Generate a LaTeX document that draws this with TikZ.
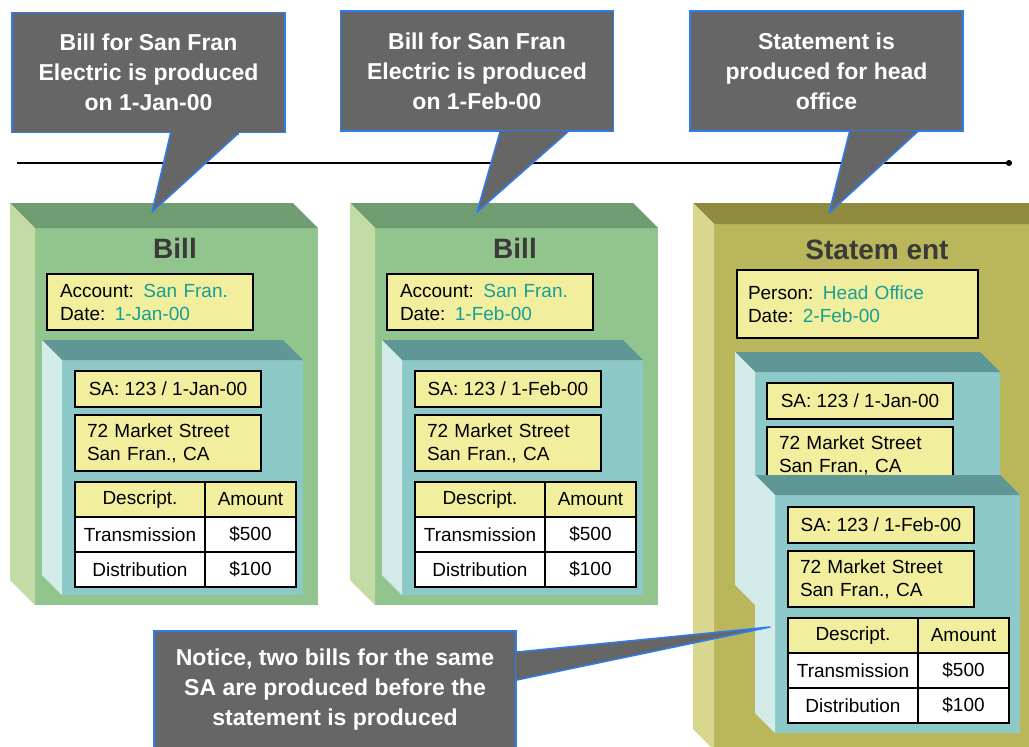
\documentclass[tikz,border=0pt]{standalone}
\usepackage{fontspec}
\setmainfont{Liberation Sans}
\usepackage{xcolor}
\usetikzlibrary{positioning,arrows.meta}

\definecolor{notegray}{HTML}{666666}
\definecolor{noteblue}{HTML}{2F7BF0}
\definecolor{billgreen}{HTML}{92C48E}
\definecolor{billtop}{HTML}{6F9C70}
\definecolor{billside}{HTML}{C3DCA6}
\definecolor{sateal}{HTML}{8DC9C8}
\definecolor{satop}{HTML}{5F9797}
\definecolor{saside}{HTML}{D3ECEA}
\definecolor{stmtolive}{HTML}{B9B65C}
\definecolor{stmttop}{HTML}{8E8B3E}
\definecolor{stmtside}{HTML}{D9D78E}
\definecolor{fieldyellow}{HTML}{F1EE9E}
\definecolor{valteal}{HTML}{179E96}
\definecolor{titlegray}{HTML}{3A3A3A}

\newcommand{\val}[1]{\textcolor{valteal}{#1}}

% 3D slab: back left x, back top y, front right x, front bottom y, depth, front, top, side colour
\newcommand{\slabbox}[8]{%
 \fill[#6] ({#1+#5},{#2+#5}) rectangle (#3,#4);
 \fill[#7] (#1,#2) -- ({#3-#5},#2) -- (#3,{#2+#5}) -- ({#1+#5},{#2+#5}) -- cycle;
 \fill[#8] (#1,#2) -- ({#1+#5},{#2+#5}) -- ({#1+#5},#4) -- (#1,{#4-#5}) -- cycle;
}

% SA line and address
\newcommand{\sahead}[4]{%
 \node[field, minimum width=186pt, minimum height=36pt, anchor=north west] (sa#1) at (#2,#3) {SA: 123 / #4};
 \node[field, text width=162pt, inner xsep=12pt, minimum height=56pt, below=8pt of sa#1] (addr#1) {72 Market Street\\San Fran., CA};
}

% charge table under the address
\newcommand{\satable}[1]{%
 \node[cell, fill=fieldyellow, minimum width=130pt, anchor=north west] (hd#1) at ([yshift=-11pt]addr#1.south west) {Descript.};
 \node[cell, fill=fieldyellow, minimum width=91pt, right=0pt of hd#1] (ha#1) {Amount};
 \node[cell, minimum width=130pt, below=0pt of hd#1] (td#1) {Transmission};
 \node[cell, minimum width=91pt, below=0pt of ha#1] (ta#1) {\$500};
 \node[cell, minimum width=130pt, below=0pt of td#1] (dd#1) {Distribution};
 \node[cell, minimum width=91pt, below=0pt of ta#1] (da#1) {\$100};
}

% callout tail: base point, tip, base point
\newcommand{\notetail}[3]{%
 \fill[notegray] #1 -- #2 -- #3 -- cycle;
 \draw[notegray, line width=2.5pt] #1 -- #3;
 \draw[pointer] #1 -- #2 -- #3;
}

\begin{document}
\begin{tikzpicture}[x=1pt, y=-1pt,
 note/.style={rectangle, fill=notegray, draw=noteblue, line width=1.5pt, text=white, align=center, font=\bfseries\fontsize{23}{30}\selectfont, minimum width=273pt, minimum height=120pt, inner sep=0pt},
 pointer/.style={draw=noteblue, line width=1.5pt, line join=round},
 field/.style={rectangle, draw, line width=1.5pt, fill=fieldyellow, align=left, font=\fontsize{19}{23}\selectfont, inner sep=0pt, outer sep=0pt},
 cell/.style={rectangle, draw, line width=2pt, fill=white, minimum height=35pt, inner sep=0pt, outer sep=0pt, font=\fontsize{19}{23}\selectfont},
 title/.style={font=\bfseries\fontsize{28}{34}\selectfont, text=titlegray}
 ]
 \useasboundingbox (0,0) rectangle (1029,747);
 \clip (0,0) rectangle (1029,747);
 % Timeline
 \coordinate (tl0) at (17,163);
 \coordinate (tl1) at (1012,163);
 \draw[line width=1.5pt, -{Circle[length=6pt]}] (tl0) -- (tl1);
 % First bill
 \slabbox{10}{203}{318}{605}{25}{billgreen}{billtop}{billside}
 \node[title] (bill1) at (175,248) {Bill};
 \node[field, text width=180pt, inner xsep=13pt, minimum height=56pt] (acct1) at (150,302) {Account: \val{San Fran.}\\Date: \val{1-Jan-00}};
 \slabbox{42}{340}{303}{595}{20}{sateal}{satop}{saside}
 \sahead{1}{75}{371}{1-Jan-00}
 \satable{1}
 % Second bill
 \slabbox{350}{203}{658}{605}{25}{billgreen}{billtop}{billside}
 \node[title] (bill2) at (515,248) {Bill};
 \node[field, text width=180pt, inner xsep=13pt, minimum height=56pt] (acct2) at (490,302) {Account: \val{San Fran.}\\Date: \val{1-Feb-00}};
 \slabbox{382}{340}{643}{595}{20}{sateal}{satop}{saside}
 \sahead{2}{415}{371}{1-Feb-00}
 \satable{2}
 % Statement
 \slabbox{693}{203}{1060}{750}{21}{stmtolive}{stmttop}{stmtside}
 \node[title] (stmt) at (877,250) {Statem ent};
 \node[field, text width=219pt, inner xsep=11pt, minimum height=68pt] (person) at (857.5,304) {Person: \val{Head Office}\\Date: \val{2-Feb-00}};
 \slabbox{735}{352}{1000}{605}{20}{sateal}{satop}{saside}
 \sahead{3}{767}{383}{1-Jan-00}
 \slabbox{755}{475}{1020}{733}{20}{sateal}{satop}{saside}
 \sahead{4}{788}{507}{1-Feb-00}
 \satable{4}
 % Callouts
 \node[note] (note1) at (148.5,72.5) {Bill for San Fran\\Electric is produced\\on 1-Jan-00};
 \coordinate (tip1) at (152,212);
 \notetail{([xshift=22pt]note1.south)}{(tip1)}{([xshift=90pt]note1.south)}
 \node[note] (note2) at (477,71) {Bill for San Fran\\Electric is produced\\on 1-Feb-00};
 \coordinate (tip2) at (477,212);
 \notetail{([xshift=23pt]note2.south)}{(tip2)}{([xshift=91pt]note2.south)}
 \node[note] (note3) at (826.5,71) {Statement is\\produced for head\\office};
 \coordinate (tip3) at (829,213);
 \notetail{([xshift=23pt]note3.south)}{(tip3)}{([xshift=91pt]note3.south)}
 \node[note, minimum width=362pt, minimum height=118pt] (note4) at (335,690) {Notice, two bills for the same\\SA are produced before the\\statement is produced};
 \coordinate (tip4) at (770,627);
 \notetail{([yshift=38pt]note4.east)}{(tip4)}{([yshift=10pt]note4.east)}
\end{tikzpicture}
\end{document}
